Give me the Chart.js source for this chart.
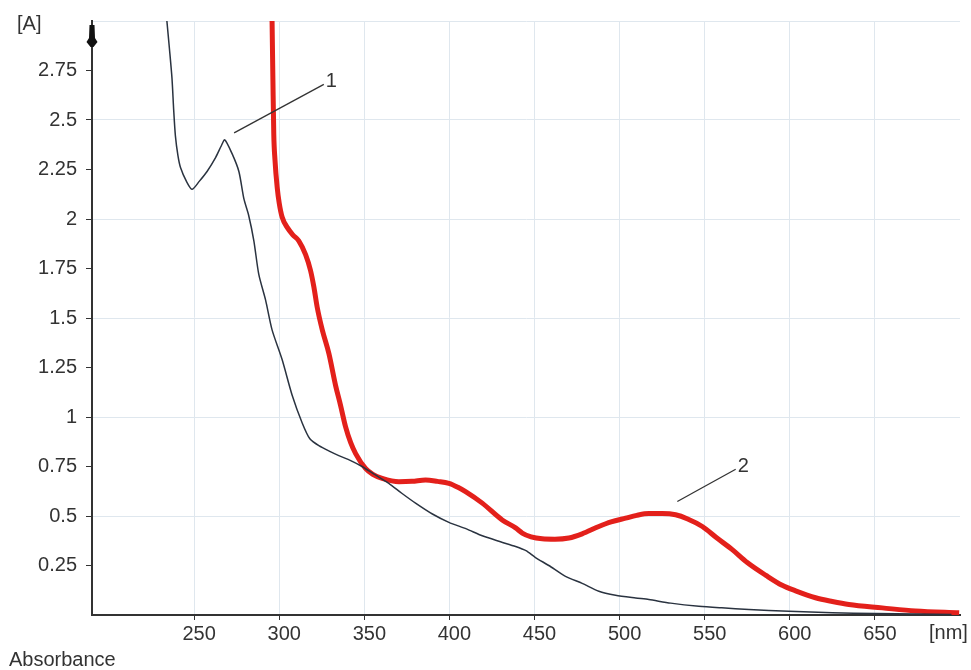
<!DOCTYPE html>
<html>
<head>
<meta charset="utf-8">
<script src="https://cdn.jsdelivr.net/npm/chart.js@4.4.0/dist/chart.umd.min.js"></script>
<style>
html,body{margin:0;padding:0;background:#fff;}
#wrap{width:971px;height:670px;position:relative;}
</style>
</head>
<body>
<div id="wrap"><canvas id="c" width="971" height="670"></canvas></div>
<script>
// ---- data ----
const xTicks = [250, 300, 350, 400, 450, 500, 550, 600, 650];
const yTicks = [0.25, 0.5, 0.75, 1, 1.25, 1.5, 1.75, 2, 2.25, 2.5, 2.75, 3];
const yTickLabels = ["0.25", "0.5", "0.75", "1", "1.25", "1.5", "1.75", "2", "2.25", "2.5", "2.75", ""];

// curve 1 (thin dark)
const s1Wavelength = [234, 235.5, 237, 238, 239, 240.5, 242, 245.5, 248.8, 253, 257.6, 262.6, 266, 268, 272.3, 276.3, 279.3, 282, 285.1, 288, 292, 295.8, 301.7, 307.6, 313.5, 318, 323.3, 330, 335, 342, 348.7, 356, 364.4, 372, 380.1, 390, 399.7, 410, 419.3, 430, 438.9, 445, 450.6, 458.4, 468.2, 478, 487.8, 497.6, 509.4, 517.2, 530, 546.6, 560, 576, 599.5, 625, 650, 675, 695];
const s1Absorbance = [3.0, 2.86, 2.71, 2.55, 2.42, 2.32, 2.26, 2.19, 2.15, 2.19, 2.24, 2.31, 2.37, 2.40, 2.33, 2.24, 2.10, 2.02, 1.89, 1.72, 1.59, 1.44, 1.29, 1.11, 0.97, 0.89, 0.855, 0.825, 0.805, 0.78, 0.75, 0.71, 0.665, 0.615, 0.565, 0.51, 0.468, 0.435, 0.40, 0.37, 0.346, 0.325, 0.29, 0.25, 0.195, 0.16, 0.12, 0.10, 0.086, 0.078, 0.06, 0.044, 0.036, 0.028, 0.019, 0.011, 0.007, 0.005, 0.003];

// curve 2 (thick red)
const s2Wavelength = [295.8, 296.3, 296.8, 297.5, 298.8, 300, 301.7, 304.9, 308, 311.5, 315.5, 318.4, 320.4, 322.3, 325.3, 329.2, 333.1, 336, 339, 342, 344.9, 350.7, 355, 360.5, 370.3, 378, 386, 393, 399.7, 405, 409.5, 419.3, 431, 438.9, 442.8, 448, 454.5, 462, 470.2, 478, 487.8, 495, 503.5, 510, 517.2, 525, 532.9, 540, 548.6, 557, 566.2, 575, 586, 595.5, 603.4, 615.1, 625, 634.7, 654.3, 673.8, 699.5];
const s2Absorbance = [3.0, 2.70, 2.43, 2.30, 2.16, 2.08, 2.01, 1.955, 1.92, 1.89, 1.82, 1.74, 1.655, 1.555, 1.44, 1.32, 1.16, 1.06, 0.95, 0.87, 0.815, 0.74, 0.71, 0.69, 0.673, 0.675, 0.682, 0.675, 0.665, 0.645, 0.623, 0.565, 0.48, 0.44, 0.414, 0.395, 0.385, 0.383, 0.389, 0.41, 0.447, 0.47, 0.489, 0.503, 0.512, 0.512, 0.506, 0.485, 0.447, 0.39, 0.33, 0.265, 0.2, 0.15, 0.122, 0.087, 0.068, 0.053, 0.036, 0.02, 0.011];

// curve labels: [label, fromX, fromY, toX, toY]
const curveLabels = [
  ["1", 273.5, 2.435, 326.2, 2.68],
  ["2", 533.9, 0.573, 568.2, 0.736]
];

// ---- styles ----
const FONT = "'Liberation Sans', Arial, sans-serif";
const FSIZE = 20;
const TEXT = '#333333';
const GRID = '#dfe7ee';
const AXIS = '#333333';

const pts = (xs, ys) => xs.map((x, i) => ({x: x, y: ys[i]}));

const extras = {
  id: 'extras',
  afterDatasetsDraw(chart) {
    const ctx = chart.ctx;
    const xs = chart.scales.x, ys = chart.scales.y;
    ctx.save();
    ctx.strokeStyle = '#333';
    ctx.lineWidth = 1.3;
    ctx.fillStyle = TEXT;
    ctx.font = FSIZE + 'px ' + FONT;
    ctx.textBaseline = 'middle';
    ctx.textAlign = 'left';
    curveLabels.forEach(c => {
      const x1 = xs.getPixelForValue(c[1]), y1 = ys.getPixelForValue(c[2]);
      const x2 = xs.getPixelForValue(c[3]), y2 = ys.getPixelForValue(c[4]);
      ctx.beginPath(); ctx.moveTo(x1, y1); ctx.lineTo(x2, y2); ctx.stroke();
      ctx.fillText(c[0], x2 + 2, y2 - 3);
    });
    // arrow on top of y axis
    const ax = chart.chartArea.left;
    ctx.fillStyle = '#111';
    ctx.beginPath();
    ctx.moveTo(ax - 2.5, 25);
    ctx.lineTo(ax + 2.5, 25);
    ctx.lineTo(ax + 3, 38);
    ctx.lineTo(ax + 5.5, 42);
    ctx.lineTo(ax + 1.5, 47);
    ctx.lineTo(ax - 1.5, 47);
    ctx.lineTo(ax - 5.5, 42);
    ctx.lineTo(ax - 3, 38);
    ctx.closePath();
    ctx.fill();
    // axis unit labels
    ctx.fillStyle = TEXT;
    ctx.font = FSIZE + 'px ' + FONT;
    ctx.textAlign = 'left';
    ctx.textBaseline = 'middle';
    ctx.fillText('[A]', 17, 24);
    ctx.fillText('[nm]', 929, 633);
    ctx.fillText('Absorbance', 9, 660);
    ctx.restore();
  }
};

new Chart(document.getElementById('c'), {
  type: 'scatter',
  data: {
    datasets: [
      {
        label: '1',
        data: pts(s1Wavelength, s1Absorbance),
        showLine: true,
        borderColor: '#2a3340',
        borderWidth: 1.5,
        pointRadius: 0,
        tension: 0.25
      },
      {
        label: '2',
        data: pts(s2Wavelength, s2Absorbance),
        showLine: true,
        borderColor: '#e3201b',
        borderWidth: 5,
        pointRadius: 0,
        cubicInterpolationMode: 'monotone'
      }
    ]
  },
  options: {
    responsive: false,
    animation: false,
    devicePixelRatio: 1,
    layout: { padding: { left: 0, right: 11, top: 20, bottom: 0 } },
    plugins: { legend: { display: false }, tooltip: { enabled: false } },
    scales: {
      x: {
        type: 'linear',
        min: 190,
        max: 700,
        afterBuildTicks: s => { s.ticks = xTicks.map(v => ({value: v})); },
        afterFit: s => { s.height = 55; },
        grid: { color: GRID, lineWidth: 1, drawTicks: true, tickLength: 5, tickColor: AXIS, tickWidth: 1 },
        border: { color: AXIS, width: 2 },
        ticks: { color: TEXT, font: { family: FONT, size: FSIZE }, padding: 2, labelOffset: 5, maxRotation: 0, autoSkip: false }
      },
      y: {
        type: 'linear',
        min: 0,
        max: 3,
        afterBuildTicks: s => { s.ticks = yTicks.map(v => ({value: v})); },
        afterFit: s => { s.width = 92; },
        grid: {
          color: c => (c.tick && Math.abs(c.tick.value * 2 - Math.round(c.tick.value * 2)) < 1e-6) ? GRID : 'rgba(0,0,0,0)',
          lineWidth: 1,
          drawTicks: true,
          tickLength: 6,
          tickColor: c => (c.tick && c.tick.value >= 3) ? 'rgba(0,0,0,0)' : AXIS,
          tickWidth: 1
        },
        border: { color: AXIS, width: 2 },
        ticks: {
          color: TEXT,
          font: { family: FONT, size: FSIZE },
          padding: 9,
          autoSkip: false,
          callback: (v, i) => yTickLabels[yTicks.indexOf(v)] ?? ''
        }
      }
    }
  },
  plugins: [extras]
});
</script>
</body>
</html>
